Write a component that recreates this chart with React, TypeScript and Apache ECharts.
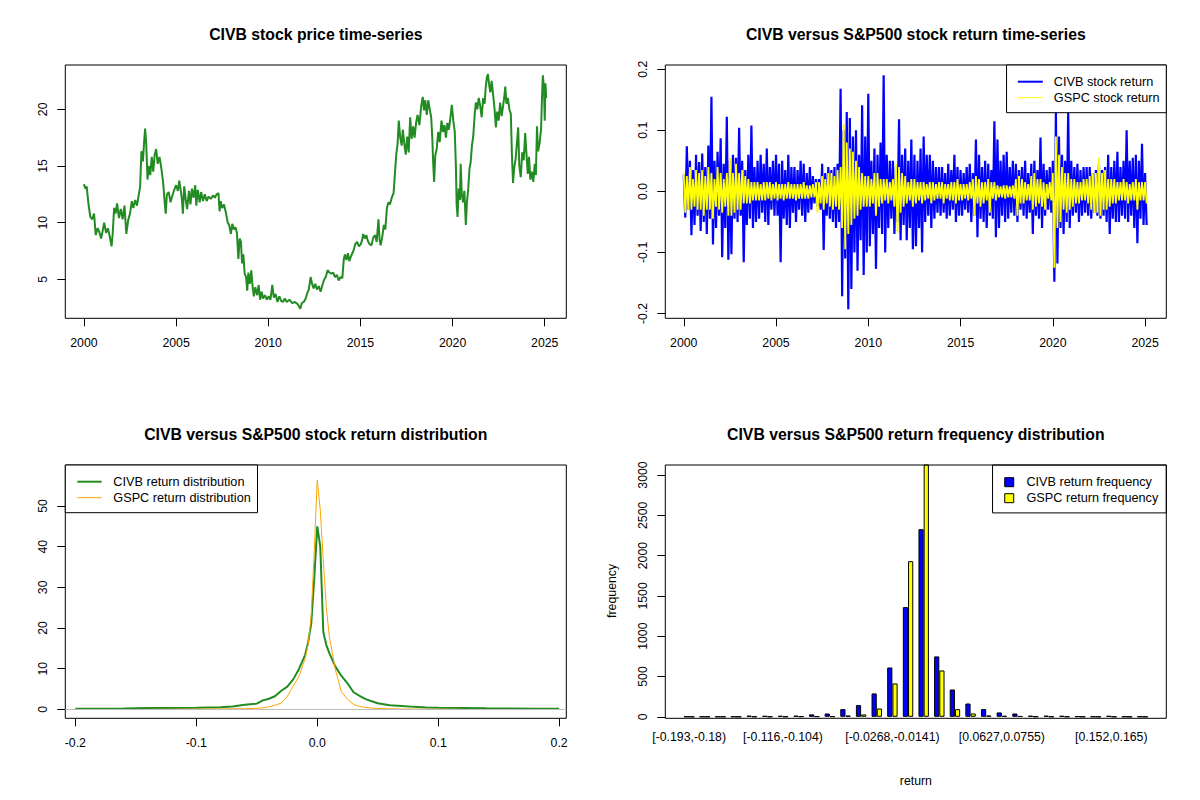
import React, { useEffect, useRef } from "react";
import * as echarts from "echarts";

const FONT = "'Liberation Sans', Arial, Helvetica, sans-serif";

// CIVB 股价（年份小数, 价格）
const priceYears = [
  2000.0, 2000.08, 2000.15, 2000.25, 2000.35, 2000.45, 2000.55, 2000.64, 2000.74, 2000.83, 2000.93,
  2001.02, 2001.1, 2001.2, 2001.3, 2001.4, 2001.5, 2001.56, 2001.64, 2001.72, 2001.8, 2001.9,
  2002.0, 2002.1, 2002.2, 2002.3, 2002.4, 2002.5, 2002.6, 2002.68, 2002.78, 2002.88, 2002.96,
  2003.05, 2003.12, 2003.2, 2003.27, 2003.32, 2003.38, 2003.45, 2003.52, 2003.6, 2003.68, 2003.76, 2003.84, 2003.92,
  2004.0, 2004.1, 2004.2, 2004.3, 2004.38, 2004.44, 2004.5, 2004.6, 2004.7, 2004.8, 2004.9,
  2005.0, 2005.1, 2005.17, 2005.25, 2005.32, 2005.37, 2005.44, 2005.52, 2005.6, 2005.7, 2005.78, 2005.86, 2005.95,
  2006.04, 2006.1, 2006.18, 2006.28, 2006.36, 2006.46, 2006.56, 2006.66, 2006.76, 2006.88,
  2007.0, 2007.1, 2007.2, 2007.3, 2007.36, 2007.42, 2007.5, 2007.6, 2007.7, 2007.8, 2007.88, 2007.97,
  2008.05, 2008.13, 2008.22, 2008.3, 2008.38, 2008.45, 2008.52, 2008.58, 2008.65, 2008.72, 2008.8, 2008.86, 2008.92,
  2009.0, 2009.08, 2009.15, 2009.22, 2009.3, 2009.4, 2009.48, 2009.56, 2009.64, 2009.72, 2009.82, 2009.92,
  2010.02, 2010.12, 2010.22, 2010.3, 2010.4, 2010.5, 2010.6, 2010.7, 2010.8, 2010.9,
  2011.0, 2011.15, 2011.3, 2011.45, 2011.6, 2011.74, 2011.82, 2011.93,
  2012.03, 2012.12, 2012.2, 2012.3, 2012.38, 2012.46, 2012.55, 2012.64, 2012.74, 2012.84, 2012.94,
  2013.04, 2013.12, 2013.22, 2013.32, 2013.42, 2013.52, 2013.62, 2013.72, 2013.82, 2013.92,
  2014.02, 2014.1, 2014.16, 2014.24, 2014.32, 2014.4, 2014.48, 2014.56, 2014.64, 2014.72, 2014.82, 2014.92,
  2015.02, 2015.1, 2015.15, 2015.24, 2015.32, 2015.4, 2015.5, 2015.6, 2015.7, 2015.8, 2015.88, 2015.98,
  2016.04, 2016.1, 2016.2, 2016.27, 2016.35, 2016.44, 2016.52, 2016.6, 2016.7, 2016.8, 2016.88, 2016.95,
  2017.02, 2017.08, 2017.16, 2017.24, 2017.3, 2017.38, 2017.46, 2017.54, 2017.62, 2017.7, 2017.78, 2017.86, 2017.94,
  2018.02, 2018.1, 2018.2, 2018.3, 2018.38, 2018.45, 2018.52, 2018.6, 2018.68, 2018.76, 2018.84, 2018.9, 2018.95,
  2019.0, 2019.06, 2019.14, 2019.22, 2019.3, 2019.4, 2019.48, 2019.56, 2019.64, 2019.72, 2019.8, 2019.88, 2019.96,
  2020.04, 2020.12, 2020.18, 2020.22, 2020.27, 2020.33, 2020.4, 2020.44, 2020.5, 2020.57, 2020.64, 2020.72, 2020.78, 2020.85, 2020.92, 2020.98,
  2021.05, 2021.12, 2021.2, 2021.26, 2021.34, 2021.42, 2021.5, 2021.58, 2021.66, 2021.74, 2021.8, 2021.86, 2021.92, 2021.98,
  2022.05, 2022.12, 2022.2, 2022.28, 2022.35, 2022.42, 2022.5, 2022.58, 2022.66, 2022.74, 2022.8, 2022.86, 2022.92,
  2023.0, 2023.08, 2023.16, 2023.22, 2023.28, 2023.34, 2023.42, 2023.5, 2023.56, 2023.62, 2023.7, 2023.78, 2023.86, 2023.94,
  2024.0, 2024.08, 2024.15, 2024.22, 2024.3, 2024.38, 2024.46, 2024.52, 2024.58, 2024.64, 2024.72, 2024.8, 2024.86, 2024.9, 2024.96,
  2025.0, 2025.04, 2025.08,
];
const priceValues = [
  13.4, 13.0, 13.2, 11.6, 10.5, 10.3, 10.8, 8.9, 9.5, 9.2, 8.6,
  9.3, 10.0, 9.1, 9.5, 8.8, 7.9, 9.0, 11.3, 10.8, 11.7, 10.4,
  11.2, 10.3, 11.5, 9.0, 10.2, 10.8, 11.9, 11.3, 12.0, 11.5, 12.3,
  13.2, 16.3, 15.4, 17.2, 18.3, 17.0, 13.8, 15.0, 14.2, 15.8, 14.5, 16.0, 16.5,
  15.2, 15.8, 14.8, 13.5, 11.8, 10.8, 12.5, 12.7, 11.8, 12.4, 12.9,
  13.3, 12.8, 13.7, 12.9, 12.0, 10.8, 13.2, 12.1, 11.2, 12.8, 11.6, 13.0, 12.2,
  13.3, 11.5, 12.9, 11.8, 12.7, 11.9, 12.5, 11.9, 12.3, 12.1,
  12.4, 12.2, 12.5, 12.6, 11.0, 11.9, 11.3, 11.6, 10.9, 10.0, 9.8, 9.0,
  9.9, 9.4, 9.6, 9.1, 6.8, 8.6, 8.3, 6.4, 7.2, 5.5, 5.2, 4.0, 5.6,
  4.6, 5.8, 4.4, 3.5, 4.3, 3.6, 4.5, 3.2, 3.9, 3.3, 3.6, 3.2,
  3.5, 3.2, 4.5, 3.4, 3.7, 3.0, 3.5, 3.1, 3.0, 3.3,
  3.0, 3.2, 2.9, 3.0, 2.8, 2.4, 2.9, 3.0,
  3.3, 3.8, 4.1, 5.2, 4.6, 4.2, 4.6, 4.1, 4.4, 3.9, 4.5,
  5.0, 5.2, 5.8, 5.6, 5.5, 5.6, 5.2, 5.4, 4.9, 5.2,
  5.1, 6.8, 7.2, 6.7, 7.3, 6.6, 7.0, 7.3, 7.6, 8.1, 8.3, 7.9,
  8.1, 8.5, 9.0, 8.6, 8.9, 8.4, 8.1, 8.0, 8.7, 8.9, 8.3, 10.3,
  8.5, 8.0, 8.9, 9.8, 9.4, 11.3, 11.8, 11.6, 12.2, 12.6, 14.5, 16.1,
  17.0, 19.0, 17.5, 16.8, 18.2, 17.0, 16.0, 17.6, 16.2, 19.3, 17.4, 18.5, 17.5,
  18.8, 19.5, 18.6, 20.3, 21.1, 19.9, 20.8, 19.5, 20.8, 20.0, 19.3, 17.5, 15.2,
  13.6, 15.9, 16.5, 18.0, 17.1, 19.0, 18.0, 18.6, 17.5, 18.8, 18.2, 19.2, 20.4,
  19.0, 18.0, 15.0, 11.6, 10.5, 13.0, 12.0, 15.2, 12.5, 11.8, 12.8, 9.8, 11.8, 13.0, 14.8, 15.3,
  16.8, 17.6, 19.5, 20.6, 20.0, 21.0, 20.3, 19.3, 21.0, 20.5, 22.0, 22.8, 23.1, 22.2,
  21.5, 22.5, 21.3, 20.0, 18.4, 19.8, 19.0, 20.6, 19.4, 20.3, 21.0, 22.0, 20.5,
  21.0, 20.0, 19.6, 16.0, 13.5, 14.8, 15.6, 17.2, 18.4, 15.0, 14.0, 16.2, 15.5, 17.9,
  16.3, 14.3, 15.8, 13.8, 14.5, 13.6, 15.2, 14.2, 18.5, 16.3, 17.0, 18.2, 21.5, 23.0, 21.8,
  19.0, 22.3, 21.0,
];

// 收益率：从 2000 年起每年 12 个样本
const returnsStart = 2000;
const returnsPerYear = 12;
const civbReturns = [
  0.027, -0.043, 0.074, -0.03, 0.05, -0.072, 0.035, -0.055, 0.06, -0.04, 0.048, -0.065,
  0.062, -0.05, 0.04, -0.07, 0.075, -0.045, 0.155, -0.087, 0.05, -0.06, 0.065, -0.04,
  0.087, -0.108, 0.045, -0.06, 0.122, -0.112, 0.05, -0.103, 0.06, -0.045, 0.055, -0.05,
  0.104, -0.04, 0.05, -0.116, 0.035, -0.055, 0.06, -0.045, 0.108, -0.06, 0.04, -0.05,
  0.05, -0.045, 0.06, -0.035, 0.045, -0.05, 0.07, -0.055, 0.04, -0.03, 0.05, -0.04,
  0.06, -0.04, 0.045, -0.116, 0.05, -0.045, 0.035, -0.055, 0.06, -0.06, 0.04, -0.035,
  0.04, -0.05, 0.035, -0.03, 0.05, -0.04, 0.045, -0.05, 0.03, -0.035, 0.04, -0.03,
  0.025, -0.02, 0.02, -0.025, 0.02, -0.03, 0.045, -0.096, 0.03, -0.04, 0.04, -0.045,
  0.035, -0.05, 0.04, -0.06, 0.045, -0.05, 0.168, -0.172, 0.1, -0.11, 0.13, -0.193,
  0.12, -0.16, 0.09, -0.1, 0.1, -0.13, 0.06, -0.08, 0.141, -0.137, 0.09, -0.1,
  0.16, -0.09, 0.05, -0.07, 0.07, -0.127, 0.06, -0.06, 0.08, -0.07, 0.19, -0.1,
  0.06, -0.06, 0.05, -0.045, 0.05, -0.07, 0.04, -0.05, 0.118, -0.08, 0.06, -0.055,
  0.07, -0.08, 0.05, -0.06, 0.085, -0.095, 0.06, -0.09, 0.05, -0.06, 0.07, -0.1,
  0.09, -0.05, 0.06, -0.04, 0.06, -0.06, 0.05, -0.045, 0.04, -0.035, 0.04, -0.04,
  0.04, -0.035, 0.03, -0.045, 0.045, -0.04, 0.035, -0.03, 0.06, -0.05, 0.04, -0.04,
  0.035, -0.04, 0.03, -0.03, 0.04, -0.035, 0.045, -0.05, 0.03, -0.04, 0.085, -0.075,
  0.06, -0.045, 0.04, -0.05, 0.05, -0.06, 0.045, -0.04, 0.035, -0.045, 0.115, -0.075,
  0.085, -0.06, 0.05, -0.04, 0.06, -0.05, 0.065, -0.045, 0.04, -0.035, 0.05, -0.04,
  0.045, -0.05, 0.035, -0.03, 0.04, -0.04, 0.05, -0.045, 0.03, -0.035, 0.045, -0.07,
  0.05, -0.04, 0.035, -0.045, 0.088, -0.06, 0.045, -0.04, 0.035, -0.03, 0.04, -0.035,
  0.05, -0.148, 0.13, -0.118, 0.09, -0.06, 0.06, -0.07, 0.05, -0.05, 0.13, -0.06,
  0.05, -0.04, 0.04, -0.035, 0.045, -0.05, 0.035, -0.04, 0.04, -0.035, 0.04, -0.04,
  0.04, -0.045, 0.03, -0.035, 0.035, -0.04, 0.045, -0.045, 0.035, -0.04, 0.04, -0.05,
  0.06, -0.07, 0.04, -0.045, 0.05, -0.05, 0.065, -0.05, 0.04, -0.04, 0.05, -0.045,
  0.1, -0.05, 0.05, -0.04, 0.055, -0.06, 0.06, -0.085, 0.05, -0.045, 0.078, -0.055,
  0.03, -0.055,
];
const gspcReturns = [
  0.03, -0.035, 0.025, -0.03, 0.04, -0.03, 0.02, -0.025, 0.035, -0.03, 0.03, -0.03,
  0.035, -0.04, 0.025, -0.03, 0.04, -0.03, 0.03, -0.045, 0.02, -0.025, 0.04, -0.03,
  0.03, -0.035, 0.02, -0.025, 0.03, -0.04, 0.055, -0.04, 0.03, -0.035, 0.045, -0.03,
  0.03, -0.03, 0.035, -0.02, 0.025, -0.02, 0.02, -0.02, 0.015, -0.015, 0.015, -0.015,
  0.015, -0.015, 0.012, -0.015, 0.015, -0.015, 0.015, -0.012, 0.015, -0.015, 0.012, -0.012,
  0.015, -0.015, 0.012, -0.012, 0.012, -0.015, 0.012, -0.012, 0.015, -0.012, 0.012, -0.012,
  0.012, -0.015, 0.012, -0.012, 0.012, -0.012, 0.015, -0.012, 0.01, -0.012, 0.01, -0.01,
  0.012, -0.01, 0.015, -0.035, 0.015, -0.02, 0.025, -0.03, 0.02, -0.02, 0.03, -0.025,
  0.03, -0.03, 0.025, -0.025, 0.035, -0.03, 0.04, -0.06, 0.11, -0.095, 0.08, -0.07,
  0.07, -0.055, 0.065, -0.045, 0.05, -0.04, 0.04, -0.03, 0.03, -0.025, 0.025, -0.025,
  0.025, -0.025, 0.02, -0.02, 0.03, -0.04, 0.03, -0.025, 0.02, -0.02, 0.02, -0.015,
  0.02, -0.02, 0.015, -0.015, 0.02, -0.025, 0.045, -0.068, 0.04, -0.035, 0.03, -0.025,
  0.025, -0.02, 0.015, -0.015, 0.02, -0.025, 0.02, -0.02, 0.015, -0.015, 0.015, -0.02,
  0.015, -0.015, 0.012, -0.012, 0.015, -0.02, 0.015, -0.015, 0.012, -0.012, 0.015, -0.012,
  0.015, -0.02, 0.012, -0.012, 0.012, -0.015, 0.015, -0.015, 0.015, -0.02, 0.02, -0.015,
  0.012, -0.015, 0.012, -0.012, 0.012, -0.015, 0.015, -0.012, 0.02, -0.04, 0.025, -0.02,
  0.02, -0.025, 0.015, -0.02, 0.015, -0.015, 0.02, -0.035, 0.015, -0.012, 0.015, -0.015,
  0.01, -0.01, 0.008, -0.01, 0.01, -0.012, 0.01, -0.01, 0.008, -0.01, 0.01, -0.012,
  0.02, -0.04, 0.025, -0.02, 0.02, -0.02, 0.015, -0.015, 0.012, -0.015, 0.025, -0.03,
  0.03, -0.025, 0.02, -0.02, 0.02, -0.025, 0.015, -0.03, 0.012, -0.012, 0.015, -0.015,
  0.03, -0.125, 0.09, -0.06, 0.06, -0.05, 0.04, -0.03, 0.03, -0.035, 0.03, -0.03,
  0.02, -0.025, 0.02, -0.02, 0.015, -0.02, 0.015, -0.015, 0.02, -0.015, 0.02, -0.02,
  0.025, -0.03, 0.03, -0.035, 0.03, -0.035, 0.055, -0.04, 0.03, -0.03, 0.035, -0.03,
  0.02, -0.025, 0.02, -0.02, 0.02, -0.02, 0.015, -0.015, 0.015, -0.015, 0.02, -0.015,
  0.015, -0.02, 0.012, -0.015, 0.015, -0.015, 0.02, -0.03, 0.015, -0.015, 0.015, -0.015,
  0.015, -0.02,
];

const yearTicks = [2000, 2005, 2010, 2015, 2020, 2025];
const priceTicks = [5, 10, 15, 20];
const returnTicks = [-0.2, -0.1, 0, 0.1, 0.2];

// 收益率密度
const densityX = [
  -0.2, -0.18, -0.16, -0.14, -0.12, -0.1, -0.09, -0.08, -0.07, -0.06, -0.05, -0.045, -0.04, -0.035,
  -0.03, -0.025, -0.02, -0.015, -0.01, -0.0075, -0.005, -0.0025, 0, 0.0025, 0.005, 0.0075, 0.01,
  0.015, 0.02, 0.025, 0.03, 0.035, 0.04, 0.045, 0.05, 0.06, 0.07, 0.08, 0.09, 0.1, 0.12, 0.14,
  0.16, 0.18, 0.2,
];
const civbDensity = [
  0.15, 0.15, 0.2, 0.3, 0.35, 0.4, 0.45, 0.5, 0.7, 1.1, 1.4, 2.2, 2.6, 3.2,
  4.5, 5.5, 7.3, 10.0, 13.4, 16.5, 21, 32, 45, 40, 19, 15.8, 13.8,
  10.5, 8.2, 6.4, 4.2, 3.3, 2.5, 2.0, 1.5, 1.0, 0.8, 0.6, 0.45, 0.4, 0.35, 0.25,
  0.2, 0.15, 0.15,
];
const gspcDensity = [
  null, null, null, 0.0, 0.02, 0.05, 0.08, 0.1, 0.12, 0.15, 0.25, 0.35, 0.6, 1.0,
  1.5, 3.1, 5.6, 8.2, 12.5, 16, 23, 39, 56.4, 49, 36.5, 25, 17.9,
  9.7, 4.3, 2.5, 1.2, 0.7, 0.45, 0.3, 0.2, 0.12, 0.08, 0.05, 0.03, 0.02, 0.0, null,
  null, null, null,
];
const densityXTicks = [-0.2, -0.1, 0, 0.1, 0.2];
const densityYTicks = [0, 10, 20, 30, 40, 50];

// 频数分布（30 个区间）
const binBreaks = [
  "-0.193", "-0.18", "-0.168", "-0.155", "-0.142", "-0.129", "-0.116", "-0.104", "-0.0908", "-0.078",
  "-0.0652", "-0.0524", "-0.0396", "-0.0268", "-0.0141", "-0.00131", "0.0115", "0.0243", "0.0371", "0.0499",
  "0.0627", "0.0755", "0.0883", "0.101", "0.114", "0.127", "0.139", "0.152", "0.165", "0.178", "0.191",
];
const civbFreq = [
  2, 1, 1, 2, 14, 12, 12, 14, 30, 41, 95, 145, 290, 612, 1361,
  2328, 749, 339, 165, 95, 54, 41, 14, 14, 12, 4, 2, 12, 2, 2,
];
const gspcFreq = [
  0, 0, 0, 0, 2, 2, 2, 4, 4, 4, 16, 29, 103, 414, 1931,
  3220, 575, 95, 41, 16, 12, 8, 2, 2, 2, 0, 0, 0, 0, 0,
];
const freqTicks = [0, 500, 1000, 1500, 2000, 2500, 3000];
const shownBins = [0, 6, 13, 20, 27];

const binLabels = civbFreq.map((_, i) => `[${binBreaks[i]},${binBreaks[i + 1]})`);
const returnDates = civbReturns.map((_, i) => returnsStart + i / returnsPerYear);

const textBase = { color: "#000", fontFamily: FONT };

const valueAxis = (
  gridIndex: number,
  min: number,
  max: number,
  ticks: number[],
  vertical: boolean,
  fmt?: (v: number) => string
) => ({
  type: "value",
  gridIndex,
  min,
  max,
  splitLine: { show: false },
  axisLine: { show: false, onZero: false },
  axisTick: {
    show: true,
    customValues: ticks,
    length: 8,
    lineStyle: { color: "#000", width: 1 },
  },
  axisLabel: {
    customValues: ticks,
    formatter: fmt || ((v: number) => String(v)),
    ...textBase,
    fontSize: 12.3,
    rotate: vertical ? 90 : 0,
    margin: vertical ? 16 : 19,
  },
});

const legendBase = {
  orient: "vertical",
  selectedMode: false,
  borderColor: "#000",
  borderWidth: 1,
  borderRadius: 0,
  backgroundColor: "#fff",
  itemGap: 2,
};

const App: React.FC = () => {
  const chartRef = useRef<HTMLDivElement>(null);

  useEffect(() => {
    document.body.style.margin = "0";
    if (!chartRef.current) return;
    const chart = echarts.init(chartRef.current, undefined, { renderer: "svg" });

    const titleStyle = { ...textBase, fontSize: 15.8, fontWeight: "bold" };
    const fmt1 = (v: number) => v.toFixed(1);
    const boxGrid = { show: true, borderColor: "#000", borderWidth: 1, backgroundColor: "transparent" };

    chart.setOption({
      animation: false,
      backgroundColor: "#fff",
      title: [
        { text: "CIVB stock price time-series", left: 315.8, top: 26.5, textAlign: "center", padding: 0, textStyle: titleStyle },
        { text: "CIVB versus S&P500 stock return time-series", left: 915.8, top: 26.5, textAlign: "center", padding: 0, textStyle: titleStyle },
        { text: "CIVB versus S&P500 stock return distribution", left: 315.8, top: 426.5, textAlign: "center", padding: 0, textStyle: titleStyle },
        { text: "CIVB versus S&P500 return frequency distribution", left: 915.8, top: 426.5, textAlign: "center", padding: 0, textStyle: titleStyle },
      ],
      grid: [
        { left: 65.3, top: 65, width: 501, height: 253.3, ...boxGrid },
        { left: 665.3, top: 65, width: 501, height: 253.3, ...boxGrid },
        { left: 65.3, top: 465, width: 501, height: 253.3, ...boxGrid },
        { left: 681.3, top: 465, width: 469.1, height: 251.8, show: false },
      ],
      xAxis: [
        valueAxis(0, 1998.99, 2026.17, yearTicks, false),
        valueAxis(1, 1999.0, 2026.15, yearTicks, false),
        valueAxis(2, -0.2083, 0.2059, densityXTicks, false, fmt1),
        {
          type: "category",
          gridIndex: 3,
          data: binLabels,
          axisLine: { show: false, onZero: false },
          axisTick: { show: false },
          axisLabel: {
            interval: (i: number) => shownBins.includes(i),
            ...textBase,
            fontSize: 12.3,
            margin: 13.7,
          },
          name: "return",
          nameLocation: "middle",
          nameGap: 58,
          nameTextStyle: { ...textBase, fontSize: 12.3 },
        },
      ],
      yAxis: [
        valueAxis(0, 1.56, 23.91, priceTicks, true),
        valueAxis(1, -0.208, 0.207, returnTicks, true, fmt1),
        valueAxis(2, -2.21, 60.08, densityYTicks, true),
        {
          ...valueAxis(3, 0, 3124, freqTicks, true),
          offset: 16,
          name: "frequency",
          nameLocation: "middle",
          nameGap: 47,
          nameRotate: 90,
          nameTextStyle: { ...textBase, fontSize: 12.3 },
        },
      ],
      legend: [
        {
          ...legendBase,
          right: 33.7,
          top: 65,
          padding: [9.7, 6.7, 8, 11.3],
          itemWidth: 25,
          itemHeight: 2,
          itemStyle: { borderWidth: 0 },
          textStyle: { ...textBase, fontSize: 12.7, lineHeight: 14, padding: [0, 0, 0, 6] },
          data: [
            { name: "CIVB stock return", icon: "rect" },
            { name: "GSPC stock return", icon: "path://M0,0H25V1H0Z" },
          ],
        },
        {
          ...legendBase,
          left: 65.3,
          top: 465,
          padding: [9.7, 6.7, 8, 12],
          itemWidth: 24.4,
          itemHeight: 2,
          itemStyle: { borderWidth: 0 },
          textStyle: { ...textBase, fontSize: 12.7, lineHeight: 14, padding: [0, 0, 0, 6.6] },
          data: [
            { name: "CIVB return distribution", icon: "rect" },
            { name: "GSPC return distribution", icon: "path://M0,0H24V1H0Z" },
          ],
        },
        {
          ...legendBase,
          right: 33.7,
          top: 465,
          padding: [10.2, 8, 7.7, 11.7],
          itemWidth: 9,
          itemHeight: 9,
          itemStyle: { borderColor: "#000", borderWidth: 1 },
          textStyle: { ...textBase, fontSize: 12.7, lineHeight: 14, padding: [0, 0, 0, 7.7] },
          data: [
            { name: "CIVB return frequency", icon: "rect" },
            { name: "GSPC return frequency", icon: "rect" },
          ],
        },
      ],
      graphic: [
        {
          type: "rect",
          shape: { x: 665.3, y: 465, width: 501, height: 253.3 },
          style: { fill: "none", stroke: "#000", lineWidth: 1 },
          z: 10,
          silent: true,
        },
      ],
      series: [
        {
          name: "CIVB stock price",
          type: "line",
          xAxisIndex: 0,
          yAxisIndex: 0,
          showSymbol: false,
          data: priceYears.map((y, i) => [y, priceValues[i]]),
          lineStyle: { color: "#228B22", width: 2 },
          itemStyle: { color: "#228B22" },
        },
        {
          name: "CIVB stock return",
          type: "line",
          xAxisIndex: 1,
          yAxisIndex: 1,
          showSymbol: false,
          data: returnDates.map((d, i) => [d, civbReturns[i]]),
          lineStyle: { color: "#0000FF", width: 2.2 },
          itemStyle: { color: "#0000FF" },
        },
        {
          name: "GSPC stock return",
          type: "line",
          xAxisIndex: 1,
          yAxisIndex: 1,
          showSymbol: false,
          data: returnDates.map((d, i) => [d, gspcReturns[i]]),
          lineStyle: { color: "#FFFF00", width: 1.8 },
          itemStyle: { color: "#FFFF00" },
        },
        {
          name: "CIVB return distribution",
          type: "line",
          xAxisIndex: 2,
          yAxisIndex: 2,
          showSymbol: false,
          data: densityX.map((x, i) => [x, civbDensity[i]]),
          lineStyle: { color: "#228B22", width: 2 },
          itemStyle: { color: "#228B22" },
        },
        {
          name: "GSPC return distribution",
          type: "line",
          xAxisIndex: 2,
          yAxisIndex: 2,
          showSymbol: false,
          data: densityX
            .map((x, i) => [x, gspcDensity[i]])
            .filter((p) => p[1] !== null),
          lineStyle: { color: "#FFA500", width: 1 },
          itemStyle: { color: "#FFA500" },
          markLine: {
            silent: true,
            symbol: ["none", "none"],
            label: { show: false },
            lineStyle: { color: "#BEBEBE", width: 1, type: "solid" },
            data: [{ yAxis: 0 }],
          },
        },
        {
          name: "CIVB return frequency",
          type: "bar",
          xAxisIndex: 3,
          yAxisIndex: 3,
          data: civbFreq,
          barGap: "0%",
          barCategoryGap: "33.33%",
          itemStyle: { color: "#0000FF", borderColor: "#000", borderWidth: 1 },
        },
        {
          name: "GSPC return frequency",
          type: "bar",
          xAxisIndex: 3,
          yAxisIndex: 3,
          data: gspcFreq,
          barGap: "0%",
          barCategoryGap: "33.33%",
          itemStyle: { color: "#FFFF00", borderColor: "#000", borderWidth: 1 },
        },
      ],
    });

    const handleResize = () => chart.resize();
    window.addEventListener("resize", handleResize);
    return () => {
      window.removeEventListener("resize", handleResize);
      chart.dispose();
    };
  }, []);

  return <div ref={chartRef} style={{ width: "1200px", height: "800px" }}></div>;
};

export default App;
